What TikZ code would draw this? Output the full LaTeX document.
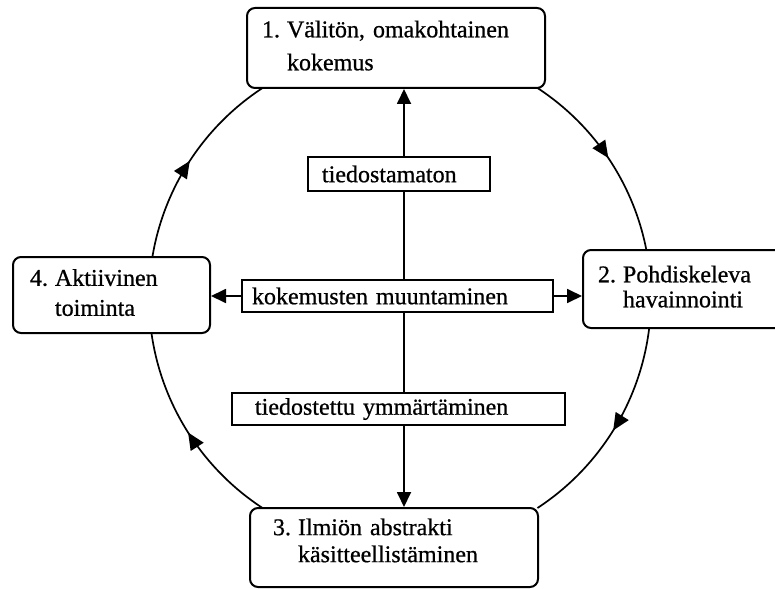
\documentclass[tikz,border=0pt]{standalone}
\usepackage{fontspec}
\setmainfont{Liberation Serif}[FakeBold=0.7]
\usetikzlibrary{arrows.meta,decorations.markings,calc}
\newcommand{\twoln}[5]{\begin{tabular}{@{}l@{\hspace{7pt}}l@{}}#1 & #2\\[#4] & #3\rule[-#5]{0pt}{#5}\end{tabular}}
\begin{document}
\begin{tikzpicture}[x=1pt,y=-1pt,
  box/.style={draw, line width=2pt, rounded corners=8pt, fill=white, align=left, inner ysep=0pt, font=\fontsize{24}{29}\selectfont},
  lab/.style={draw, line width=1.8pt, fill=white, align=left, inner ysep=0pt, font=\fontsize{24}{29}\selectfont},
  tip/.style={line width=1.8pt, -{Triangle[length=15pt,width=14pt]}},
  plain/.style={line width=1.8pt},
  flow/.style={line width=1.7pt, postaction={decorate}, decoration={markings, mark=at position 0.5 with {\arrow{Triangle[length=17pt,width=15pt]}}}}
]
\useasboundingbox (0,0) rectangle (775,588);
\clip (0,0) rectangle (775,588);
\coordinate (O) at (400,298);
\coordinate (a1) at ($(O)+(56.8:251pt)$);
\coordinate (a2) at ($(O)+(-6.9:251pt)$);
\coordinate (a3) at ($(O)+(-123.2:251pt)$);
\coordinate (a4) at ($(O)+(170.6:251pt)$);
\coordinate (vx) at (404,0);

\draw[flow] (a1) arc[start angle=56.8, end angle=11, radius=251pt];
\draw[flow] (a2) arc[start angle=-6.9, end angle=-56.8, radius=251pt];
\draw[flow] (a3) arc[start angle=-123.2, end angle=-172, radius=251pt];
\draw[flow] (a4) arc[start angle=170.6, end angle=123.2, radius=251pt];

\node[box, text width=268pt, inner xsep=15pt, minimum height=80pt] (top) at (396,48) {\twoln{1.}{Välitön, omakohtainen}{kokemus}{4pt}{0pt}};
\node[box, text width=222pt, inner xsep=15pt, minimum height=78pt] (right) at (709,289) {\twoln{2.}{Pohdiskeleva}{havainnointi}{-4pt}{8pt}};
\node[box, text width=242pt, inner xsep=23pt, minimum height=79pt] (bottom) at (394,547.5) {\twoln{3.}{Ilmiön abstrakti}{käsitteellistäminen}{-2pt}{18pt}};
\node[box, text width=163pt, inner xsep=17pt, minimum height=76pt] (left) at (111.5,295) {\twoln{4.}{Aktiivinen}{toiminta}{1pt}{2pt}};

\node[lab, text width=154pt, inner xsep=14pt, minimum height=34pt] (lab1) at (399,174) {tiedostamaton};
\node[lab, text width=291pt, inner xsep=10pt, minimum height=32pt] (lab2) at (397.5,296) {kokemusten muuntaminen};
\node[lab, text width=287pt, inner xsep=23pt, minimum height=32pt] (lab3) at (398.5,409) {tiedostettu ymmärtäminen};

\draw[tip] (lab1.north -| vx) -- (top.south -| vx);
\draw[plain] (lab1.south -| vx) -- (lab2.north -| vx);
\draw[plain] (lab2.south -| vx) -- (lab3.north -| vx);
\draw[tip] (lab3.south -| vx) -- (bottom.north -| vx);
\draw[tip] (lab2.west) -- (left.east |- lab2.west);
\draw[tip] (lab2.east) -- (right.west |- lab2.east);
\end{tikzpicture}
\end{document}
